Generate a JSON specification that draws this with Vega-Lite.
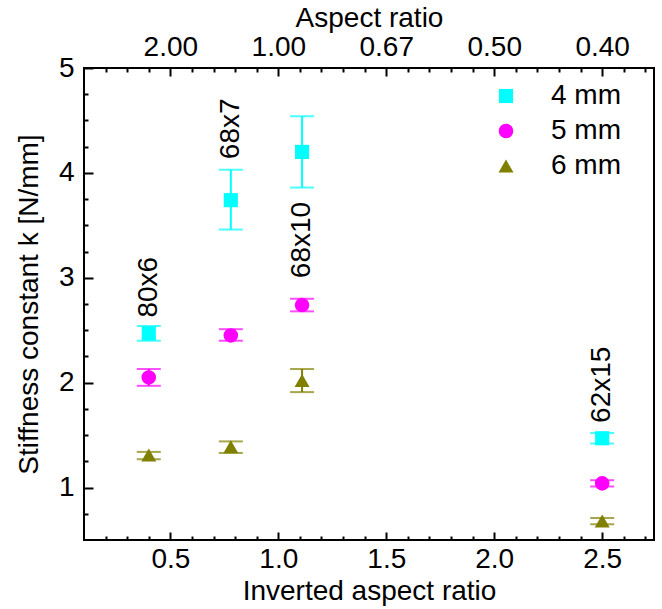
{
  "$schema": "https://vega.github.io/schema/vega-lite/v6.json",
  "width": 570,
  "height": 472,
  "autosize": "none",
  "padding": {"left": 84, "top": 68, "right": 8, "bottom": 69},
  "config": {
    "font": "Liberation Sans",
    "view": {"stroke": "black", "strokeWidth": 2},
    "axis": {
      "domain": false,
      "grid": false,
      "labelFont": "Liberation Sans",
      "titleFont": "Liberation Sans",
      "labelFontSize": 28,
      "titleFontSize": 28,
      "titleFontWeight": "normal",
      "labelColor": "black",
      "titleColor": "black",
      "tickColor": "black",
      "tickWidth": 2,
      "labelOverlap": false,
      "labelFlush": false
    },
    "legend": {"labelFont": "Liberation Sans", "labelFontSize": 28, "labelColor": "black", "symbolOpacity": 1}
  },
  "datasets": {
    "points": [
      {"ratio": 0.4, "k": 2.47, "lo": 2.40, "hi": 2.54, "size": "4 mm"},
      {"ratio": 0.78, "k": 3.74, "lo": 3.46, "hi": 4.03, "size": "4 mm"},
      {"ratio": 1.11, "k": 4.20, "lo": 3.86, "hi": 4.54, "size": "4 mm"},
      {"ratio": 2.5, "k": 1.47, "lo": 1.42, "hi": 1.52, "size": "4 mm"},
      {"ratio": 0.4, "k": 2.05, "lo": 1.97, "hi": 2.13, "size": "5 mm"},
      {"ratio": 0.78, "k": 2.45, "lo": 2.40, "hi": 2.51, "size": "5 mm"},
      {"ratio": 1.11, "k": 2.74, "lo": 2.68, "hi": 2.80, "size": "5 mm"},
      {"ratio": 2.5, "k": 1.04, "lo": 1.01, "hi": 1.07, "size": "5 mm"},
      {"ratio": 0.4, "k": 1.31, "lo": 1.27, "hi": 1.34, "size": "6 mm"},
      {"ratio": 0.78, "k": 1.39, "lo": 1.33, "hi": 1.44, "size": "6 mm"},
      {"ratio": 1.11, "k": 2.02, "lo": 1.91, "hi": 2.13, "size": "6 mm"},
      {"ratio": 2.5, "k": 0.68, "lo": 0.65, "hi": 0.71, "size": "6 mm"}
    ],
    "labels": [
      {"ratio": 0.4, "k": 2.91, "name": "80x6"},
      {"ratio": 0.78, "k": 4.42, "name": "68x7"},
      {"ratio": 1.11, "k": 3.36, "name": "68x10"},
      {"ratio": 2.5, "k": 1.98, "name": "62x15"}
    ]
  },
  "layer": [
    {
      "data": {"name": "points"},
      "mark": {"type": "errorbar", "ticks": true, "size": 24, "thickness": 2},
      "encoding": {
        "x": {
          "field": "ratio", "type": "quantitative",
          "scale": {"domain": [0.1, 2.74], "nice": false, "zero": false},
          "axis": {
            "orient": "bottom",
            "title": "Inverted aspect ratio",
            "values": [0.2,0.3,0.4,0.5,0.6,0.7,0.8,0.9,1.0,1.1,1.2,1.3,1.4,1.5,1.6,1.7,1.8,1.9,2.0,2.1,2.2,2.3,2.4,2.5,2.6,2.7],
            "labelExpr": "abs(datum.value*2-round(datum.value*2))<0.001 ? format(datum.value,'.1f') : ''",
            "tickSize": {"condition": {"test": "abs(datum.value*2-round(datum.value*2))<0.001", "value": -8}, "value": -4},
            "labelPadding": 13,
            "titlePadding": 0
          }
        },
        "y": {
          "field": "lo", "type": "quantitative",
          "scale": {"domain": [0.5, 5], "nice": false, "zero": false},
          "axis": {
            "title": "Stiffness constant k [N/mm]",
            "values": [0.75,1,1.25,1.5,1.75,2,2.25,2.5,2.75,3,3.25,3.5,3.75,4,4.25,4.5,4.75,5],
            "labelExpr": "datum.value % 1 == 0 ? format(datum.value,'d') : ''",
            "tickSize": {"condition": {"test": "datum.value % 1 == 0", "value": -9}, "value": -4},
            "labelPadding": 19,
            "titlePadding": 15
          }
        },
        "y2": {"field": "hi"},
        "color": {
          "field": "size", "type": "nominal",
          "scale": {"domain": ["4 mm", "5 mm", "6 mm"], "range": ["#00FFFF", "#FF00FF", "#808000"]},
          "legend": {
            "title": null, "orient": "none", "legendX": 408, "legendY": 14,
            "symbolSize": 240, "symbolStrokeWidth": 0, "labelOffset": 31, "rowPadding": 7
          }
        }
      }
    },
    {
      "data": {"name": "points"},
      "mark": {"type": "point", "filled": true, "opacity": 1, "strokeWidth": 0},
      "encoding": {
        "x": {
          "field": "ratio", "type": "quantitative",
          "scale": {"domain": [0.1, 2.74], "nice": false, "zero": false},
          "axis": {
            "orient": "top",
            "title": "Aspect ratio",
            "values": [0.2,0.3,0.4,0.5,0.6,0.7,0.8,0.9,1.0,1.1,1.2,1.3,1.4,1.5,1.6,1.7,1.8,1.9,2.0,2.1,2.2,2.3,2.4,2.5,2.6,2.7],
            "labelExpr": "abs(datum.value*2-round(datum.value*2))<0.001 ? format(1/datum.value,'.2f') : ''",
            "tickSize": {"condition": {"test": "abs(datum.value*2-round(datum.value*2))<0.001", "value": -8}, "value": -4},
            "labelPadding": 15,
            "titlePadding": -3
          }
        },
        "y": {
          "field": "k", "type": "quantitative",
          "scale": {"domain": [0.5, 5], "nice": false, "zero": false},
          "axis": {
            "title": "Stiffness constant k [N/mm]",
            "values": [0.75,1,1.25,1.5,1.75,2,2.25,2.5,2.75,3,3.25,3.5,3.75,4,4.25,4.5,4.75,5],
            "labelExpr": "datum.value % 1 == 0 ? format(datum.value,'d') : ''",
            "tickSize": {"condition": {"test": "datum.value % 1 == 0", "value": -9}, "value": -4},
            "labelPadding": 19,
            "titlePadding": 15
          }
        },
        "color": {
          "field": "size", "type": "nominal",
          "scale": {"domain": ["4 mm", "5 mm", "6 mm"], "range": ["#00FFFF", "#FF00FF", "#808000"]},
          "legend": {
            "title": null, "orient": "none", "legendX": 408, "legendY": 14,
            "symbolSize": 240, "symbolStrokeWidth": 0, "labelOffset": 31, "rowPadding": 7
          }
        },
        "shape": {
          "field": "size", "type": "nominal",
          "scale": {"domain": ["4 mm", "5 mm", "6 mm"], "range": ["square", "circle", "triangle-up"]},
          "legend": {
            "title": null, "orient": "none", "legendX": 408, "legendY": 14,
            "symbolSize": 240, "symbolStrokeWidth": 0, "labelOffset": 31, "rowPadding": 7
          }
        },
        "size": {
          "field": "size", "type": "nominal",
          "scale": {"domain": ["4 mm", "5 mm", "6 mm"], "range": [200, 225, 330]},
          "legend": null
        }
      }
    },
    {
      "data": {"name": "labels"},
      "mark": {"type": "text", "angle": 270, "align": "center", "baseline": "middle", "fontSize": 28, "font": "Liberation Sans", "color": "black"},
      "encoding": {
        "x": {"field": "ratio", "type": "quantitative", "axis": null},
        "y": {
          "field": "k", "type": "quantitative",
          "scale": {"domain": [0.5, 5], "nice": false, "zero": false},
          "axis": {
            "title": "Stiffness constant k [N/mm]",
            "values": [0.75,1,1.25,1.5,1.75,2,2.25,2.5,2.75,3,3.25,3.5,3.75,4,4.25,4.5,4.75,5],
            "labelExpr": "datum.value % 1 == 0 ? format(datum.value,'d') : ''",
            "tickSize": {"condition": {"test": "datum.value % 1 == 0", "value": -9}, "value": -4},
            "labelPadding": 19,
            "titlePadding": 15
          }
        },
        "text": {"field": "name"}
      }
    }
  ],
  "resolve": {"axis": {"x": "independent"}}
}
